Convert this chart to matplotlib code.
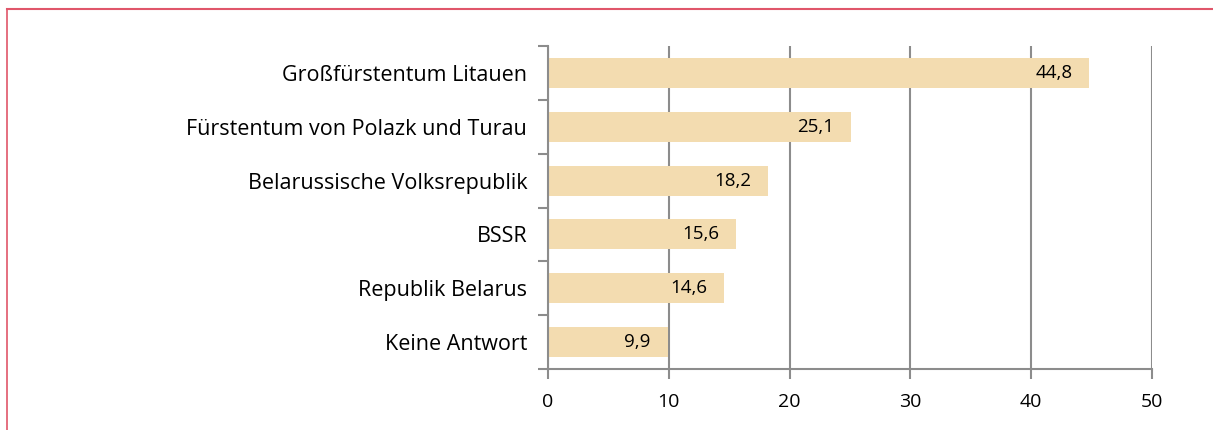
import matplotlib.pyplot as plt
from matplotlib.lines import Line2D

categories = ['Großfürstentum Litauen', 'Fürstentum von Polazk und Turau',
              'Belarussische Volksrepublik', 'BSSR', 'Republik Belarus', 'Keine Antwort']
values = [44.8, 25.1, 18.2, 15.6, 14.6, 9.9]
value_labels = ['44,8', '25,1', '18,2', '15,6', '14,6', '9,9']
xticks = [0, 10, 20, 30, 40, 50]

plt.rcParams['font.family'] = ['Open Sans', 'DejaVu Sans']

W, H = 1213, 430
fig = plt.figure(figsize=(W / 100, H / 100), dpi=100)
ax = fig.add_axes([548 / W, 1 - 369 / H, (1152 - 548) / W, (369 - 46) / H])

grid_c = '#8c8c8c'
pos = list(range(len(categories)))
ax.barh(pos, values, height=0.56, color='#f3dcb0', zorder=2)
for p, v, lab in zip(pos, values, value_labels):
    ax.text(v - 1.4, p, lab, ha='right', va='center', fontsize=13.5, color='black', zorder=3)

ax.set_xlim(0, 50)
ax.set_ylim(len(categories) - 0.5, -0.5)
ax.set_xticks(xticks)
ax.set_xticklabels([str(t) for t in xticks], fontsize=14)
ax.xaxis.grid(True, color=grid_c, linewidth=1.5, zorder=1)

# category boundaries get the tick marks, labels sit on the centres
ax.set_yticks([p - 0.5 for p in pos] + [len(categories) - 0.5])
ax.set_yticklabels([])
ax.set_yticks(pos, minor=True)
ax.set_yticklabels(categories, minor=True, fontsize=15.5)
ax.tick_params(axis='y', which='major', direction='out', length=7, width=1.5, color=grid_c)
ax.tick_params(axis='y', which='minor', length=0, pad=15)
ax.tick_params(axis='x', direction='out', length=7, width=1.5, color=grid_c, pad=10)

for s in ['top', 'right']:
    ax.spines[s].set_visible(False)
for s in ['left', 'bottom']:
    ax.spines[s].set_color(grid_c)
    ax.spines[s].set_linewidth(1.5)

# red frame around the chart area
red = '#e0566a'
fig.add_artist(Line2D([7 / W, 1], [1 - 9 / H, 1 - 9 / H], transform=fig.transFigure, color=red, linewidth=1.5))
fig.add_artist(Line2D([7 / W, 7 / W], [0, 1 - 9 / H], transform=fig.transFigure, color=red, linewidth=1.2))

fig.savefig('out.png', dpi=100)
